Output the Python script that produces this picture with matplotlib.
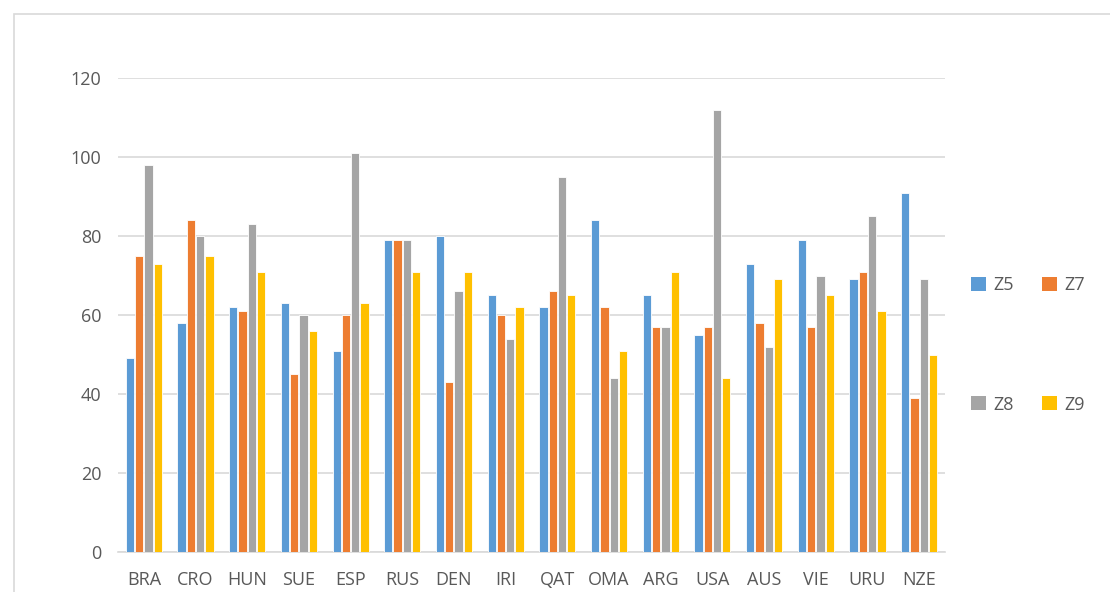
import numpy as np
import matplotlib.pyplot as plt
from matplotlib.patches import Rectangle, Patch

plt.rcParams['font.family'] = ['Open Sans', 'DejaVu Sans']

countries = ['BRA', 'CRO', 'HUN', 'SUE', 'ESP', 'RUS', 'DEN', 'IRI',
             'QAT', 'OMA', 'ARG', 'USA', 'AUS', 'VIE', 'URU', 'NZE']
z5 = [49, 58, 62, 63, 51, 79, 80, 65, 62, 84, 65, 55, 73, 79, 69, 91]
z7 = [75, 84, 61, 45, 60, 79, 43, 60, 66, 62, 57, 57, 58, 57, 71, 39]
z8 = [98, 80, 83, 60, 101, 79, 66, 54, 95, 44, 57, 112, 52, 70, 85, 69]
z9 = [73, 75, 71, 56, 63, 71, 71, 62, 65, 51, 71, 44, 69, 65, 61, 50]
series_names = ['Z5', 'Z7', 'Z8', 'Z9']
colors = ['#5B9BD5', '#ED7D31', '#A5A5A5', '#FFC000']

fig = plt.figure(figsize=(11.1, 5.92), dpi=100)
ax = fig.add_axes([118 / 1110, 1 - 552 / 592, (945 - 118) / 1110, (552 - 78) / 592])

# outer chart frame
fig.patches.append(Rectangle((14 / 1110, -0.1), 1.2, 1 - 14 / 592 + 0.1,
                             transform=fig.transFigure, fill=False,
                             edgecolor='#D9D9D9', linewidth=1.2))

x = np.arange(len(countries))
width = 0.16
step = 0.18
for i, (vals, c) in enumerate(zip([z5, z7, z8, z9], colors)):
    ax.bar(x + (i - 1.5) * step, vals, width, color=c,
           edgecolor='white', linewidth=0.6, zorder=3)

ax.set_xlim(-0.5, len(countries) - 0.5)
ax.set_ylim(0, 120)
ax.set_yticks(range(0, 121, 20))
ax.set_xticks(x)
ax.set_xticklabels(countries)
ax.grid(axis='y', color='#D9D9D9', linewidth=1.2, zorder=0)
for s in ['top', 'right', 'left']:
    ax.spines[s].set_visible(False)
ax.spines['bottom'].set_color('#D9D9D9')
ax.spines['bottom'].set_linewidth(1.2)
ax.tick_params(length=0, labelsize=13, colors='#595959')
ax.tick_params(axis='x', pad=14)
ax.tick_params(axis='y', pad=12)

# legend is filled column by column, so order handles for rows Z5 Z7 / Z8 Z9
order = [0, 2, 1, 3]
handles = [Patch(facecolor=colors[i], edgecolor='none') for i in order]
labels = [series_names[i] for i in order]
fig.legend(handles, labels, ncol=2, loc='center',
           bbox_to_anchor=(1028 / 1110, 1 - 345 / 592), frameon=False,
           fontsize=13, labelcolor='#595959', handlelength=0.8,
           handleheight=0.8, handletextpad=0.4, columnspacing=1.6,
           labelspacing=5.6)

fig.savefig('out.png', dpi=100)
